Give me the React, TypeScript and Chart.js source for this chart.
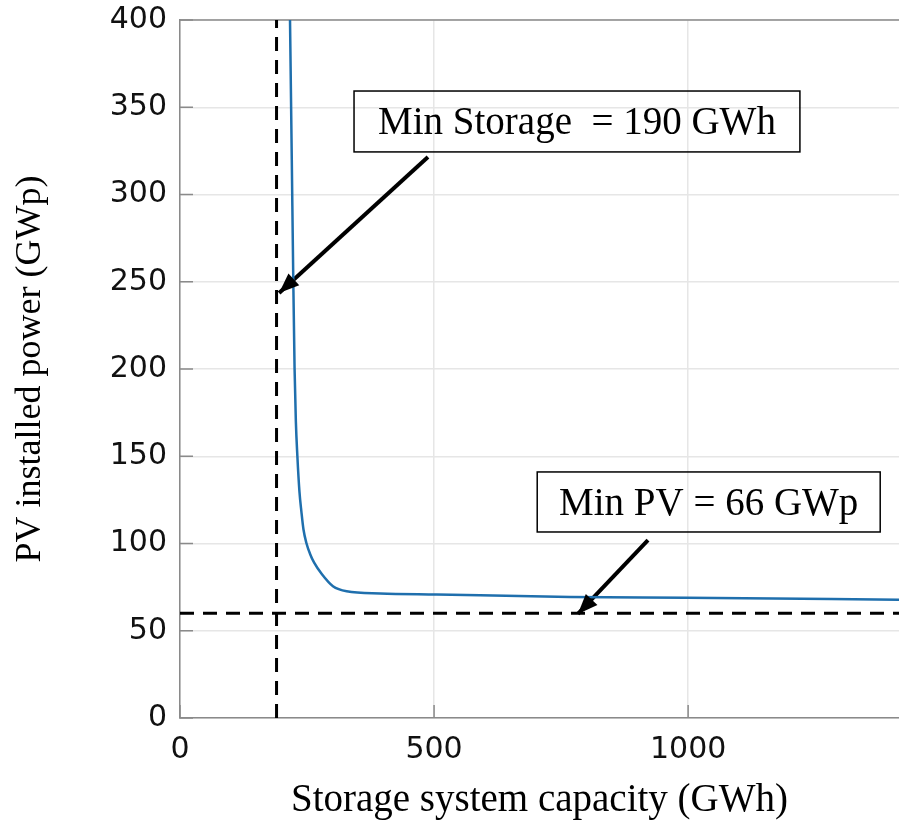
import React, { useEffect, useRef } from "react";
import { Chart, registerables } from "chart.js";

Chart.register(...registerables);

// ---- data ----
const storageGWh = [216.5, 220, 223, 225.5, 228, 231, 235, 239, 243, 249, 256, 264, 279, 301, 328, 394, 505, 768, 997, 1415];
const pvGWp = [400, 320, 250, 200, 170, 150, 130, 118, 108, 100, 94, 89, 82.5, 75.5, 72.6, 71.4, 70.8, 69.4, 68.9, 67.8];

const xTickValues = [0, 500, 1000];
const yTickValues = [0, 50, 100, 150, 200, 250, 300, 350, 400];

const minStorageValue = 190;
const minPVLineValue = 60;

const minStorageLabel = "Min Storage  = 190 GWh";
const minPVLabel = "Min PV = 66 GWp";

// arrows: tail -> head (data units)
const arrow1X = [488, 195];
const arrow1Y = [321.5, 243.6];
const arrow2X = [921, 783];
const arrow2Y = [102, 59.6];

// annotation boxes (data units): [x0, x1], [y0, y1]
const box1X = [342.5, 1220];
const box1Y = [324.4, 359.3];
const box2X = [703, 1378];
const box2Y = [106.6, 141];

const X_MAX = 1415;

const SERIF = "'Liberation Serif', 'Times New Roman', serif";
const SANS = "'DejaVu Sans', Arial, sans-serif";

const overlay = {
  id: "overlay",
  beforeDatasetsDraw(chart: any) {
    const ctx = chart.ctx;
    const { left, right, top, bottom } = chart.chartArea;
    const xs = chart.scales.x;
    const ys = chart.scales.y;
    ctx.save();
    ctx.strokeStyle = "#8a8a8a";
    ctx.lineWidth = 1.5;
    ctx.beginPath();
    ctx.moveTo(left, top);
    ctx.lineTo(right, top);
    ctx.stroke();
    ctx.beginPath();
    yTickValues.forEach((v) => {
      const py = ys.getPixelForValue(v);
      ctx.moveTo(left, py);
      ctx.lineTo(left + 13, py);
    });
    xTickValues.forEach((v) => {
      const px = xs.getPixelForValue(v);
      ctx.moveTo(px, bottom);
      ctx.lineTo(px, bottom - 13);
    });
    ctx.stroke();
    ctx.restore();
  },
  afterDatasetsDraw(chart: any) {
    const ctx = chart.ctx;
    const xs = chart.scales.x;
    const ys = chart.scales.y;
    ctx.save();
    const head = (ax: number[], ay: number[]) => {
      const x0 = xs.getPixelForValue(ax[0]);
      const y0 = ys.getPixelForValue(ay[0]);
      const x1 = xs.getPixelForValue(ax[1]);
      const y1 = ys.getPixelForValue(ay[1]);
      const ang = Math.atan2(y1 - y0, x1 - x0);
      const L = 20;
      const W = 8;
      ctx.fillStyle = "#000";
      ctx.beginPath();
      ctx.moveTo(x1, y1);
      ctx.lineTo(x1 - L * Math.cos(ang) + W * Math.sin(ang), y1 - L * Math.sin(ang) - W * Math.cos(ang));
      ctx.lineTo(x1 - L * Math.cos(ang) - W * Math.sin(ang), y1 - L * Math.sin(ang) + W * Math.cos(ang));
      ctx.closePath();
      ctx.fill();
    };
    head(arrow1X, arrow1Y);
    head(arrow2X, arrow2Y);

    const box = (bx: number[], by: number[], label: string, size: number) => {
      const x0 = xs.getPixelForValue(bx[0]);
      const x1 = xs.getPixelForValue(bx[1]);
      const y0 = ys.getPixelForValue(by[1]);
      const y1 = ys.getPixelForValue(by[0]);
      ctx.strokeStyle = "#000";
      ctx.lineWidth = 1.5;
      ctx.strokeRect(x0, y0, x1 - x0, y1 - y0);
      ctx.fillStyle = "#000";
      ctx.font = `${size}px ${SERIF}`;
      ctx.textAlign = "center";
      ctx.textBaseline = "alphabetic";
      ctx.fillText(label, (x0 + x1) / 2, (y0 + y1) / 2 + size * 0.33);
    };
    box(box1X, box1Y, minStorageLabel, 39);
    box(box2X, box2Y, minPVLabel, 39);
    ctx.restore();
  },
};

export default function App() {
  const ref = useRef<HTMLCanvasElement | null>(null);

  useEffect(() => {
    if (!ref.current) return;
    const curve = storageGWh.map((x, i) => ({ x, y: pvGWp[i] }));
    const chart = new Chart(ref.current, {
      type: "line",
      data: {
        datasets: [
          {
            data: curve,
            borderColor: "#1f6fad",
            borderWidth: 2.5,
            pointRadius: 0,
            cubicInterpolationMode: "monotone",
            fill: false,
          },
          {
            data: [
              { x: minStorageValue, y: 0 },
              { x: minStorageValue, y: 400 },
            ],
            borderColor: "#000",
            borderWidth: 3,
            borderDash: [14, 9],
            pointRadius: 0,
            fill: false,
          },
          {
            data: [
              { x: 0, y: minPVLineValue },
              { x: X_MAX, y: minPVLineValue },
            ],
            borderColor: "#000",
            borderWidth: 3,
            borderDash: [14, 9],
            pointRadius: 0,
            fill: false,
          },
          {
            data: arrow1X.map((x, i) => ({ x, y: arrow1Y[i] })),
            borderColor: "#000",
            borderWidth: 4,
            pointRadius: 0,
            fill: false,
          },
          {
            data: arrow2X.map((x, i) => ({ x, y: arrow2Y[i] })),
            borderColor: "#000",
            borderWidth: 4,
            pointRadius: 0,
            fill: false,
          },
        ],
      },
      options: {
        responsive: false,
        animation: false,
        devicePixelRatio: 1,
        layout: { padding: { top: 20, left: 0, right: 0, bottom: 0 } },
        plugins: { legend: { display: false }, tooltip: { enabled: false } },
        scales: {
          x: {
            type: "linear",
            min: 0,
            max: X_MAX,
            afterBuildTicks: (s: any) => {
              s.ticks = xTickValues.map((v) => ({ value: v }));
            },
            afterFit: (s: any) => {
              s.height = 102;
              s.paddingLeft = 0;
              s.paddingRight = 0;
            },
            ticks: {
              font: { family: SANS, size: 30, lineHeight: 1.0 },
              color: "#111",
              padding: 17,
              maxRotation: 0,
              callback: (v: any) => String(v),
            },
            grid: {
              color: "#e6e6e6",
              lineWidth: 1.5,
              drawTicks: false,
            },
            border: { display: true, color: "#8a8a8a", width: 1.5 },
            title: {
              display: true,
              text: "Storage system capacity (GWh)",
              font: { family: SERIF, size: 39, lineHeight: 1.0 },
              color: "#000",
              padding: { top: 3, bottom: 0 },
            },
          },
          y: {
            type: "linear",
            min: 0,
            max: 400,
            afterBuildTicks: (s: any) => {
              s.ticks = yTickValues.map((v) => ({ value: v }));
            },
            afterFit: (s: any) => {
              s.width = 180;
              s.paddingTop = 0;
              s.paddingBottom = 0;
            },
            ticks: {
              font: { family: SANS, size: 30, lineHeight: 1.0 },
              color: "#111",
              padding: 13,
              callback: (v: any) => String(v),
            },
            grid: {
              color: "#e6e6e6",
              lineWidth: 1.5,
              drawTicks: false,
            },
            border: { display: true, color: "#8a8a8a", width: 1.5 },
            title: {
              display: true,
              text: "PV installed power (GWp)",
              font: { family: SERIF, size: 36, lineHeight: 1.2 },
              color: "#000",
              padding: { top: 9, bottom: 0 },
            },
          },
        },
      },
      plugins: [overlay],
    } as any);
    return () => chart.destroy();
  }, []);

  return (
    <div style={{ position: "absolute", left: 0, top: 0, width: 899, height: 820, background: "#fff" }}>
      <canvas ref={ref} width={899} height={820} />
    </div>
  );
}
